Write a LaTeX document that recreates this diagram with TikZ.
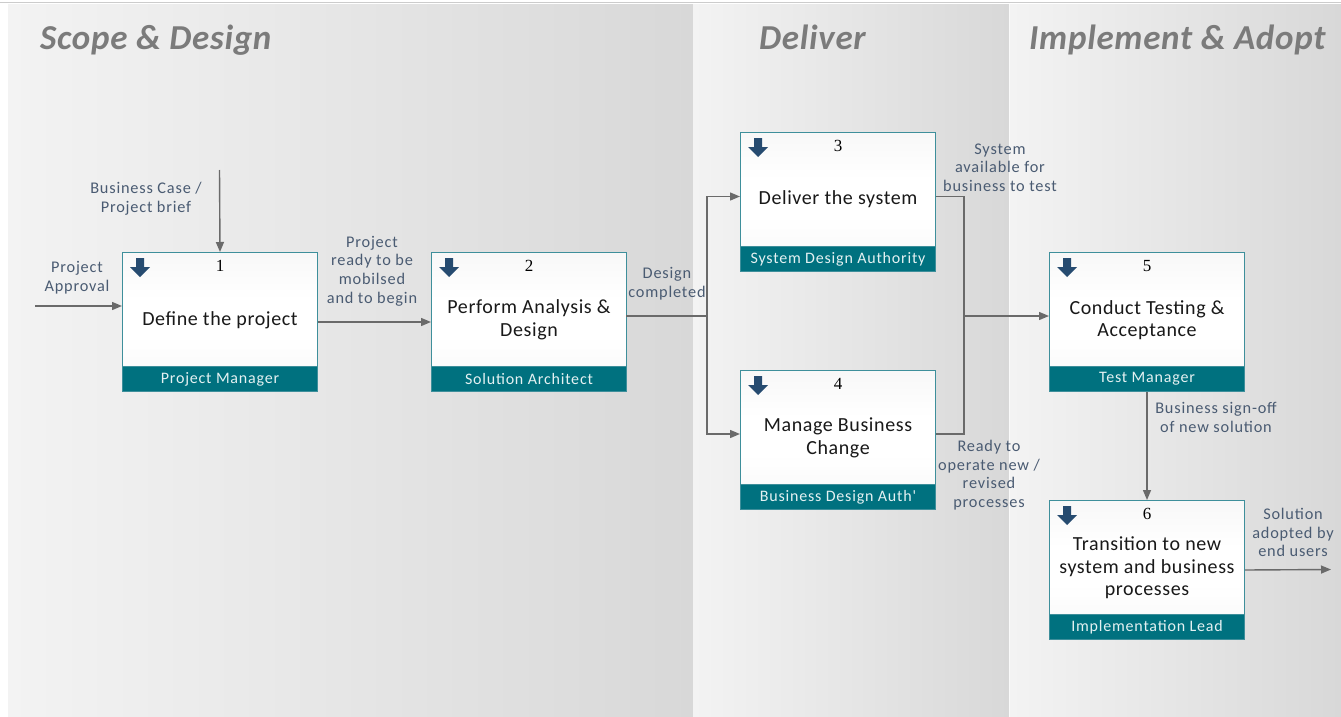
\documentclass[tikz,border=0pt]{standalone}
\usepackage{fontspec}
\setmainfont{Carlito}
\newfontfamily\numfont{Liberation Serif}
\newfontfamily\lblfont[LetterSpace=5]{Carlito}
\newfontfamily\mainfont[LetterSpace=3]{Carlito}
\newfontfamily\ttlfont[LetterSpace=2]{Carlito}
\usetikzlibrary{arrows.meta,calc}
\definecolor{bandc}{HTML}{00717F}
\definecolor{borderc}{HTML}{3E8F9B}
\definecolor{navyc}{HTML}{264B70}
\definecolor{lblc}{HTML}{4A5B72}
\definecolor{connc}{HTML}{6A6A6A}
\definecolor{ttlc}{HTML}{7B7B7B}
\definecolor{panelL}{HTML}{F3F3F3}
\definecolor{panelR}{HTML}{D8D8D8}
\definecolor{bandtxt}{HTML}{E4F1F2}
\pgfdeclareverticalshading{boxshade}{100bp}{color(0bp)=(gray!12); color(45bp)=(white); color(58bp)=(white); color(100bp)=(gray!14)}
\tikzset{
  panel/.style={left color=panelL, right color=panelR, draw=none},
  procbox/.style={draw=borderc, line width=1pt, shading=boxshade, minimum width=195pt, minimum height=139pt, inner sep=0pt, anchor=north west},
  bandbox/.style={draw=borderc, line width=1pt, fill=bandc, text=bandtxt, minimum width=195pt, minimum height=25pt, inner sep=0pt, anchor=south, font=\lblfont\fontsize{16}{18}\selectfont},
  numtxt/.style={font=\numfont\fontsize{17}{19}\selectfont, inner sep=0pt},
  maintxt/.style={align=center, font=\mainfont\fontsize{20}{22.5}\selectfont, inner sep=0pt, text=black!90},
  lbl/.style={align=center, font=\lblfont\fontsize{16.3}{18.7}\selectfont, text=lblc, inner sep=0pt},
  ttl/.style={font=\ttlfont\fontsize{35}{38}\selectfont\bfseries\itshape, text=ttlc, inner sep=0pt, anchor=base west},
  conn/.style={draw=connc, line width=1.4pt},
  arr/.style={conn, -{Triangle[length=10pt,width=8pt]}}
}
\newcommand{\dnicon}[1]{\fill[navyc] ($(#1.north west)+(14,6)$) -- ++(8,0) -- ++(0,9) -- ++(6,0) -- ++(-10,10) -- ++(-10,-10) -- ++(6,0) -- cycle;}
\begin{document}
\begin{tikzpicture}[x=1pt,y=-1pt]
\useasboundingbox (0,0) rectangle (1341,717);
\fill[white] (0,0) rectangle (1341,717);
\draw[gray!40, line width=0.8pt] (0,2) -- (1341,2);
\fill[panel] (8,5) rectangle (693,716);
\fill[panel] (693,5) rectangle (1009,716);
\fill[panel] (1010,5) rectangle (1341,716);

\node[ttl] (t1) at (40,50) {Scope \& Design};
\node[ttl] (t2) at (759,50) {Deliver};
\node[ttl] (t3) at (1029,50) {Implement \& Adopt};

% boxes
\node[procbox] (b1) at (122,252) {};
\node[procbox] (b2) at (431,252) {};
\node[procbox] (b3) at (740,132) {};
\node[procbox] (b4) at (740,370) {};
\node[procbox] (b5) at (1049,252) {};
\node[procbox] (b6) at (1049,500) {};

\node[bandbox] (r1) at (b1.south) {Project Manager};
\node[bandbox] (r2) at (b2.south) {Solution Architect};
\node[bandbox] (r3) at (b3.south) {System Design Authority};
\node[bandbox] (r4) at (b4.south) {Business Design Auth'};
\node[bandbox] (r5) at (b5.south) {Test Manager};
\node[bandbox] (r6) at (b6.south) {Implementation Lead};

\node[numtxt] (n1) at ($(b1.north)+(0,14)$) {1};
\node[numtxt] (n2) at ($(b2.north)+(0,14)$) {2};
\node[numtxt] (n3) at ($(b3.north)+(0,14)$) {3};
\node[numtxt] (n4) at ($(b4.north)+(0,14)$) {4};
\node[numtxt] (n5) at ($(b5.north)+(0,14)$) {5};
\node[numtxt] (n6) at ($(b6.north)+(0,14)$) {6};

\node[maintxt] (m1) at ($(b1.center)+(0,-2)$) {Define the project};
\node[maintxt] (m2) at ($(b2.center)+(0,-2)$) {Perform Analysis \&\\Design};
\node[maintxt] (m3) at ($(b3.center)+(0,-3)$) {Deliver the system};
\node[maintxt] (m4) at ($(b4.center)+(0,-2)$) {Manage Business\\Change};
\node[maintxt] (m5) at ($(b5.center)+(0,-2)$) {Conduct Testing \&\\Acceptance};
\node[maintxt] (m6) at ($(b6.center)+(0,-2)$) {Transition to new\\system and business\\processes};

\dnicon{b1}\dnicon{b2}\dnicon{b3}\dnicon{b4}\dnicon{b5}\dnicon{b6}

% connectors
\coordinate (in1) at (35,306);
\coordinate (bc) at (219.5,170);
\draw[arr] (in1) -- (in1 -| b1.west);
\draw[arr] (bc) -- (b1.north);
\draw[arr] (b1.east) -- (b2.west);
\coordinate (o2) at (626,316);
\coordinate (j1) at (707,316);
\coordinate (i3) at ($(b3.west)+(0,-5.5)$);
\coordinate (i4) at ($(b4.west)+(0,-6)$);
\draw[conn] (o2) -- (j1);
\draw[arr] (j1) |- (i3);
\draw[arr] (j1) |- (i4);
\coordinate (o3) at ($(b3.east)+(0,-5.5)$);
\coordinate (o4) at ($(b4.east)+(0,-6)$);
\coordinate (j2) at (964,316);
\draw[conn] (o3) -| (j2);
\draw[conn] (o4) -| (j2);
\draw[arr] (j2) -- (j2 -| b5.west);
\draw[arr] (r5.south) -- (b6.north);
\coordinate (out6) at (1331,569.5);
\draw[arr] (b6.east) -- (out6);

% labels
\node[lbl] (l1) at (77,278) {Project\\Approval};
\node[lbl] (l2) at (146,198.5) {Business Case /\\Project brief};
\node[lbl] (l3) at (372,271) {Project\\ready to be\\mobilsed\\and to begin};
\node[lbl] (l4) at (667,284) {Design\\completed};
\node[lbl] (l5) at (1000,167.5) {System\\available for\\business to test};
\node[lbl] (l6) at (989,475) {Ready to\\operate new /\\revised\\processes};
\node[lbl] (l7) at (1216,417.5) {Business sign-off\\of new solution};
\node[lbl] (l8) at (1293,532.5) {Solution\\adopted by\\end users};
\end{tikzpicture}
\end{document}
